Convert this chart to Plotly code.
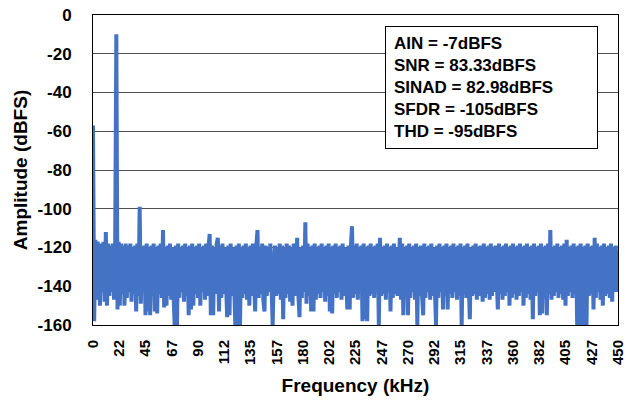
import plotly.graph_objects as go

freq_step_khz = 1
amplitude_dbfs = [
    -57, -158, -116, -147, -117, -144, -150, -118, -143, -117,
    -148, -112, -150, -118, -145, -119, -143, -118, -147, -119,
    -10, -152, -117, -150, -118, -144, -119, -150, -118, -146,
    -119, -143, -118, -148, -120, -144, -119, -153, -118, -145,
    -99, -149, -120, -142, -119, -155, -118, -153, -120, -155,
    -119, -145, -118, -153, -120, -154, -119, -144, -118, -146,
    -111, -151, -120, -150, -119, -145, -118, -147, -120, -144,
    -160, -119, -160, -118, -146, -120, -143, -119, -148, -118,
    -145, -120, -155, -119, -152, -118, -150, -120, -144, -119,
    -146, -118, -150, -120, -143, -119, -147, -118, -145, -120,
    -113, -155, -119, -155, -120, -144, -118, -115, -153, -119,
    -146, -118, -144, -120, -147, -156, -119, -155, -118, -145,
    -120, -148, -160, -119, -160, -118, -160, -120, -146, -119,
    -144, -118, -147, -120, -150, -119, -145, -118, -148, -153,
    -119, -111, -146, -120, -144, -118, -147, -153, -119, -145,
    -120, -143, -118, -146, -160, -132, -119, -145, -120, -144,
    -118, -147, -119, -157, -120, -146, -118, -144, -119, -148,
    -120, -150, -118, -145, -119, -115, -144, -156, -120, -146,
    -119, -143, -107, -149, -118, -145, -120, -153, -119, -153,
    -118, -147, -120, -144, -119, -146, -118, -143, -120, -148,
    -119, -145, -118, -153, -120, -154, -119, -144, -118, -146,
    -120, -143, -119, -147, -118, -145, -120, -144, -152, -119,
    -152, -120, -109, -146, -119, -144, -118, -147, -120, -143,
    -119, -158, -118, -157, -120, -158, -119, -145, -118, -144,
    -120, -146, -119, -143, -118, -160, -115, -145, -120, -144,
    -119, -147, -118, -143, -120, -153, -119, -146, -118, -144,
    -120, -145, -119, -115, -147, -118, -155, -120, -144, -119,
    -155, -118, -146, -120, -143, -119, -147, -118, -160, -120,
    -145, -119, -144, -155, -118, -146, -120, -143, -119, -147,
    -118, -145, -120, -144, -160, -119, -146, -118, -143, -120,
    -152, -119, -145, -118, -152, -120, -144, -119, -146, -118,
    -143, -120, -147, -119, -145, -118, -160, -120, -144, -119,
    -146, -118, -143, -157, -120, -145, -119, -144, -118, -147,
    -120, -145, -119, -143, -148, -118, -146, -120, -144, -119,
    -147, -118, -145, -120, -143, -119, -146, -152, -118, -144,
    -120, -147, -119, -145, -118, -143, -120, -150, -119, -146,
    -118, -144, -120, -147, -119, -145, -118, -143, -120, -150,
    -119, -146, -118, -144, -120, -147, -119, -157, -118, -145,
    -120, -143, -119, -155, -118, -154, -120, -146, -119, -155,
    -118, -144, -111, -147, -120, -145, -119, -143, -118, -146,
    -120, -144, -119, -147, -118, -150, -116, -145, -120, -143,
    -119, -146, -118, -144, -120, -160, -119, -160, -118, -160,
    -120, -160, -119, -160, -118, -145, -120, -144, -119, -152,
    -115, -146, -118, -143, -120, -147, -119, -150, -118, -145,
    -120, -144, -119, -146, -118, -148, -120, -143, -119, -143,
    -121,
]
frequency_khz = [i * freq_step_khz for i in range(len(amplitude_dbfs))]

x_tick_values = [0, 22.5, 45, 67.5, 90, 112.5, 135, 157.5, 180, 202.5, 225,
                 247.5, 270, 292.5, 315, 337.5, 360, 382.5, 405, 427.5, 450]
x_tick_labels = ["0", "22", "45", "67", "90", "112", "135", "157", "180", "202", "225",
                 "247", "270", "292", "315", "337", "360", "382", "405", "427", "450"]
y_tick_values = [0, -20, -40, -60, -80, -100, -120, -140, -160]
y_tick_labels = ["0", "-20", "-40", "-60", "-80", "-100", "-120", "-140", "-160"]

stats_lines = ["AIN = -7dBFS", "SNR = 83.33dBFS", "SINAD = 82.98dBFS",
               "SFDR = -105dBFS", "THD = -95dBFS"]

FONT = "Liberation Sans, Arial, sans-serif"

fig = go.Figure()
fig.add_trace(go.Scatter(
    x=frequency_khz, y=amplitude_dbfs, mode="lines",
    line=dict(color="#4472C4", width=4),
    showlegend=False, hoverinfo="x+y",
))

fig.update_layout(
    width=636, height=403,
    margin=dict(l=93, r=18, t=15, b=78),
    paper_bgcolor="white", plot_bgcolor="white",
    font=dict(family=FONT, size=16, color="black", weight="bold"),
    xaxis=dict(
        range=[0, 450], tickmode="array", tickvals=x_tick_values, ticktext=x_tick_labels,
        tickangle=-90, tickfont=dict(family=FONT, size=15, weight="bold"),
        showgrid=False, zeroline=False, showline=True, linecolor="black", linewidth=1,
        mirror=True, ticks="", ticklabelstandoff=8, automargin=False,
        title=dict(text="Frequency (kHz)", font=dict(family=FONT, size=19, weight="bold"),
                   standoff=14),
    ),
    yaxis=dict(
        range=[-160, 0], tickmode="array", tickvals=y_tick_values, ticktext=y_tick_labels,
        tickfont=dict(family=FONT, size=17, weight="bold"),
        showgrid=True, gridcolor="#505050", gridwidth=1, zeroline=False,
        showline=True, linecolor="black", linewidth=1, mirror=True,
        ticks="", ticklabelstandoff=17, automargin=False,
        title=dict(text="Amplitude (dBFS)", font=dict(family=FONT, size=19, weight="bold"),
                   standoff=4),
    ),
    annotations=[dict(
        xref="paper", yref="paper", x=0.556, y=0.9645, xanchor="left", yanchor="top",
        text="<br>".join(stats_lines), align="left", showarrow=False,
        font=dict(family=FONT, size=17, color="black", weight="bold"),
        bgcolor="white", bordercolor="black", borderwidth=1, borderpad=8,
        width=195, height=105,
    )],
)

fig.write_html("out.html", config={"displayModeBar": False},
               post_script="document.body.style.margin='0';document.body.style.padding='0';")
